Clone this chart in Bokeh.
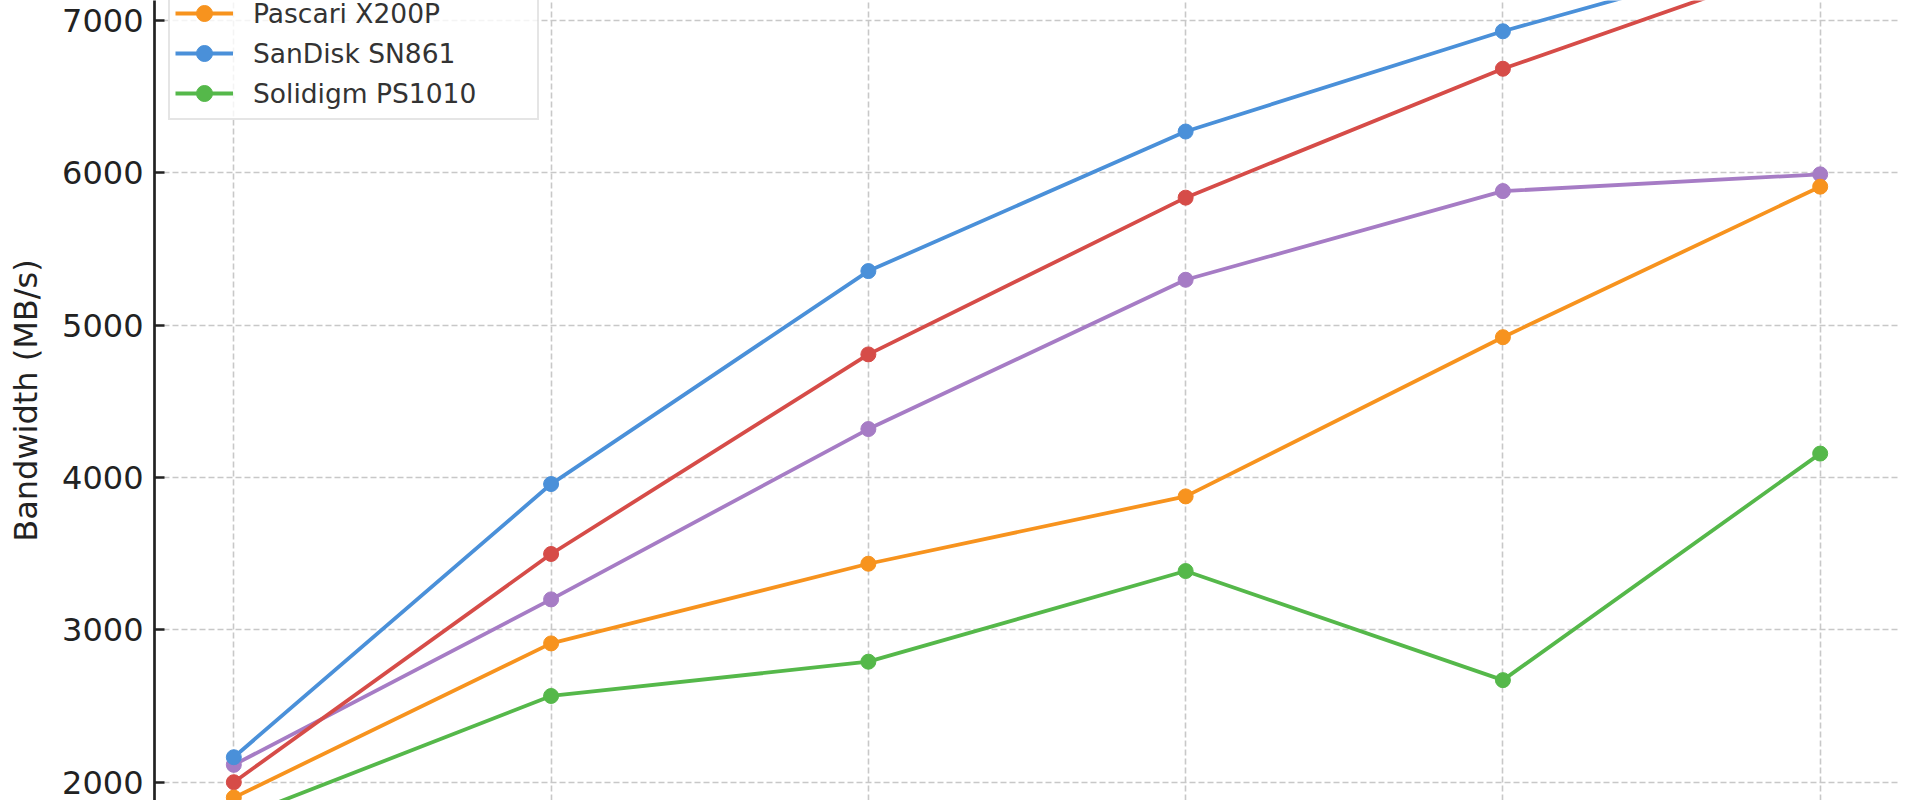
from bokeh.plotting import figure
from bokeh.models import Range1d, FixedTicker, Legend, LegendItem
from bokeh.embed import file_html
from bokeh.resources import INLINE

# ---- data (x categories are cut off in the reference) ----
x_pos = [0, 1, 2, 3, 4, 5]
y_ticks = [2000, 3000, 4000, 5000, 6000, 7000]
y_label = "Bandwidth (MB/s)"

purple_name = "Drive A"          # legend entry not visible in reference
purple_vals = [2114, 3200, 4318, 5298, 5880, 5990]
red_name = "Drive B"             # legend entry not visible in reference
red_vals = [2000, 3498, 4808, 5837, 6683, 7410]
orange_name = "Pascari X200P"
orange_vals = [1899, 2911, 3434, 3876, 4921, 5909]
blue_name = "SanDisk SN861"
blue_vals = [2164, 3957, 5355, 6271, 6929, 7510]
green_name = "Solidigm PS1010"
green_vals = [1755, 2566, 2791, 3386, 2670, 4157]

series = [
    (purple_name, purple_vals, "#A67CC5", False),
    (red_name, red_vals, "#D64C48", False),
    (orange_name, orange_vals, "#F7931E", True),
    (blue_name, blue_vals, "#4A90D9", True),
    (green_name, green_vals, "#55B84A", True),
]

p = figure(
    width=1912, height=800,
    output_backend="svg", toolbar_location=None,
    x_range=Range1d(-0.25, 5.25),
    y_range=Range1d(1879.9, 7131.0),
    min_border_left=154, min_border_right=13,
    min_border_top=0, min_border_bottom=0,
)
p.outline_line_color = None
p.background_fill_color = "white"
p.border_fill_color = "white"

# x axis hidden (cut off in reference), grid kept
p.xaxis.ticker = FixedTicker(ticks=x_pos)
p.xaxis.visible = False
p.xgrid.ticker = FixedTicker(ticks=x_pos)

p.yaxis.ticker = FixedTicker(ticks=y_ticks)
p.yaxis.axis_label = y_label
p.yaxis.axis_label_text_font = "DejaVu Sans"
p.yaxis.axis_label_text_font_size = "32px"
p.yaxis.axis_label_text_font_style = "normal"
p.yaxis.axis_label_text_color = "#222222"
p.yaxis.axis_label_standoff = 14
p.yaxis.major_label_text_font = "DejaVu Sans"
p.yaxis.major_label_text_font_size = "32px"
p.yaxis.major_label_text_color = "#222222"
p.yaxis.major_label_standoff = 11
p.yaxis.axis_line_width = 2.7
p.yaxis.axis_line_color = "#222222"
p.yaxis.major_tick_in = 10
p.yaxis.major_tick_out = 0
p.yaxis.major_tick_line_width = 2.5
p.yaxis.major_tick_line_color = "#222222"
p.yaxis.minor_tick_line_color = None

for g in (p.xgrid, p.ygrid):
    g.grid_line_color = "#c8c8c8"
    g.grid_line_width = 1.6
    g.grid_line_dash = "6 3"

items = []
for name, vals, color, show in series:
    lr = p.line(x_pos, vals, line_color=color, line_width=3.8)
    sr = p.scatter(x_pos, vals, size=15, fill_color=color, line_color=color)
    if show:
        items.append(LegendItem(label=name, renderers=[lr, sr]))

legend = Legend(
    items=items,
    location=(14, 680),
    orientation="vertical",
    glyph_width=58, glyph_height=40,
    label_height=40, label_width=279, label_standoff=20,
    spacing=0, padding=5, margin=0,
    label_text_font="DejaVu Sans",
    label_text_font_size="26.5px",
    label_text_color="#333333",
    background_fill_color="white",
    background_fill_alpha=0.8,
    border_line_color="#cccccc",
    border_line_width=2,
)
p.add_layout(legend, "center")

open("out.html", "w").write(file_html(p, INLINE))
